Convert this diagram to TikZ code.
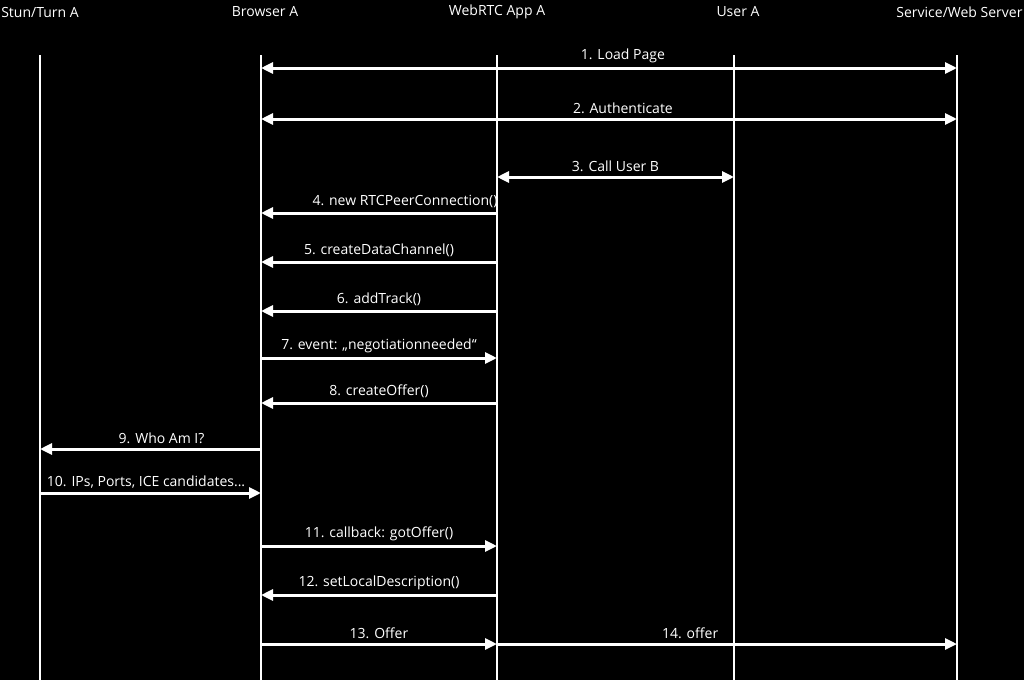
\documentclass[tikz,border=0pt]{standalone}
\usepackage{fontspec}
\setmainfont{Open Sans}
\usetikzlibrary{arrows.meta}

\begin{document}
\begin{tikzpicture}[x=1pt,y=-1pt,font=\fontsize{14}{16}\selectfont,text=white]
% Define styles
\tikzset{life/.style={white, line width=2pt},
  msg/.style={white, line width=3pt, -{Triangle[length=12pt,width=11pt]}},
  bimsg/.style={white, line width=3pt, {Triangle[length=12pt,width=11pt]}-{Triangle[length=12pt,width=11pt]}},
  lbl/.style={inner sep=1pt}}
\fill[black] (0,0) rectangle (1024,680);
\useasboundingbox (0,0) rectangle (1024,680);
% Define nodes
\node (stun) at (40,12) {Stun/Turn A};
\node (browser) at (265,12) {Browser A};
\node (app) at (497,12) {WebRTC App A};
\node (user) at (738,12) {User A};
\node[anchor=east] (server) at (1026,12) {Service/Web Server};
\foreach \n/\x in {s/40,b/261,a/497,u/734,w/957}{
  \coordinate (\n_top) at (\x,55);
  \coordinate (\n_bot) at (\x,680);
  \draw[life] (\n_top) -- (\n_bot);
}
% Messages
\coordinate (b1) at (261,68); \coordinate (w1) at (957,68);
\coordinate (b2) at (261,119); \coordinate (w2) at (957,119);
\coordinate (a3) at (497,177); \coordinate (u3) at (734,177);
\coordinate (a4) at (497,213); \coordinate (b4) at (261,213);
\coordinate (a5) at (497,262); \coordinate (b5) at (261,262);
\coordinate (a6) at (497,311); \coordinate (b6) at (261,311);
\coordinate (b7) at (261,358); \coordinate (a7) at (497,358);
\coordinate (a8) at (497,403); \coordinate (b8) at (261,403);
\coordinate (b9) at (261,449); \coordinate (s9) at (40,449);
\coordinate (s10) at (40,493); \coordinate (b10) at (261,493);
\coordinate (b11) at (261,546); \coordinate (a11) at (497,546);
\coordinate (a12) at (497,595); \coordinate (b12) at (261,595);
\coordinate (b13) at (261,644); \coordinate (a13) at (497,644);
\coordinate (w14) at (957,644);

\draw[bimsg] (b1) -- (w1) node[lbl, pos=0.52, above=3pt] (m1) {1. Load Page};
\draw[bimsg] (b2) -- (w2) node[lbl, pos=0.52, above=3pt] (m2) {2. Authenticate};
\draw[bimsg] (a3) -- (u3) node[lbl, midway, above=3pt] (m3) {3. Call User B};
\draw[msg] (a4) -- (b4) node[lbl, pos=0.39, above=3pt] (m4) {4. new RTCPeerConnection()};
\draw[msg] (a5) -- (b5) node[lbl, midway, above=3pt] (m5) {5. createDataChannel()};
\draw[msg] (a6) -- (b6) node[lbl, midway, above=3pt] (m6) {6. addTrack()};
\draw[msg] (b7) -- (a7) node[lbl, midway, above=3pt] (m7) {7. event: „negotiationneeded“};
\draw[msg] (a8) -- (b8) node[lbl, midway, above=3pt] (m8) {8. createOffer()};
\draw[msg] (b9) -- (s9) node[lbl, pos=0.45, above=3pt] (m9) {9. Who Am I?};
\draw[msg] (s10) -- (b10) node[lbl, pos=0.48, above=2pt] (m10) {10. IPs, Ports, ICE candidates...};
\draw[msg] (b11) -- (a11) node[lbl, midway, above=3pt] (m11) {11. callback: gotOffer()};
\draw[msg] (a12) -- (b12) node[lbl, midway, above=3pt] (m12) {12. setLocalDescription()};
\draw[msg] (b13) -- (a13) node[lbl, midway, above=3pt] (m13) {13. Offer};
\draw[msg] (a13) -- (w14) node[lbl, pos=0.42, above=3pt] (m14) {14. offer};
\end{tikzpicture}
\end{document}
